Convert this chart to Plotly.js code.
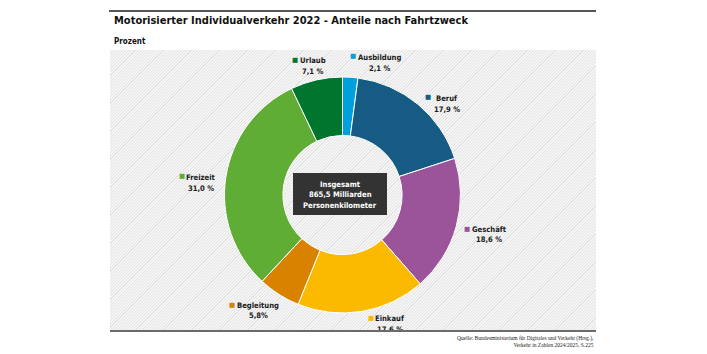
<!DOCTYPE html>
<html>
<head>
<meta charset="utf-8">
<script src="https://cdn.plot.ly/plotly-3.0.1.min.js"></script>
<style>
  html, body { margin: 0; padding: 0; background: #ffffff; }
  #wrap { position: relative; width: 707px; height: 354px; overflow: hidden; }
  #hatch { position: absolute; left: 110px; top: 50px; width: 486px; height: 280px;
    background: repeating-linear-gradient(135deg, #e3e3e3 0px, #e3e3e3 0.8px, #f5f5f5 0.8px, #f5f5f5 2.2px); }
  #plot { position: absolute; left: 0; top: 0; width: 707px; height: 354px; }
  #bottomline { position: absolute; left: 110px; top: 330px; width: 486px; height: 4px;
    border-top: 2px solid #6b6b6b; background: #ffffff; box-sizing: border-box; }
</style>
</head>
<body>
<div id="wrap">
  <div id="hatch"></div>
  <div id="plot"></div>
  <div id="bottomline"></div>
</div>
<script>
// ---- Data ----
const categories = ["Ausbildung", "Beruf", "Geschäft", "Einkauf", "Begleitung", "Freizeit", "Urlaub"];
const shares = [2.1, 17.9, 18.6, 17.6, 5.8, 31.0, 7.1];
const shareLabels = ["2,1 %", "17,9 %", "18,6 %", "17,6 %", "5,8%", "31,0 %", "7,1 %"];
const colors = ["#00a0dc", "#155b84", "#9b5399", "#fbb900", "#d98200", "#5fad35", "#00752e"];
const centerText = ["Insgesamt", "865,5 Milliarden", "Personenkilometer"];
const titleText = "Motorisierter Individualverkehr 2022 - Anteile nach Fahrtzweck";
const unitText = "Prozent";
const sourceText = ["Quelle: Bundesministerium für Digitales und Verkehr (Hrsg.),", "Verkehr in Zahlen 2024/2025, S.225"];

// ---- Layout helpers (pixel positions of labels) ----
const W = 707, H = 354;
const px = x => x / W;
const py = y => 1 - y / H;
// label block centre x, first-line y, marker x, marker y
const labelPos = [
  [379, 58, 353, 56.5],
  [447, 98.5, 428, 97.5],
  [489, 229, 467, 228.5],
  [390, 318.5, 371, 317.5],
  [258, 305, 232, 304.5],
  [200.5, 177.5, 182, 176.5],
  [312.5, 60.5, 295, 59.5]
];
const lineGap = 10.5;

const FONT = '"DejaVu Sans Condensed", "DejaVu Sans", sans-serif';

const cx = 342.5, cy = 195, r = 118;

const trace = {
  type: "pie",
  labels: categories,
  values: shares,
  sort: false,
  direction: "clockwise",
  rotation: 0,
  hole: 0.505,
  textinfo: "none",
  hoverinfo: "label+percent",
  marker: { colors: colors, line: { color: "#ffffff", width: 1 } },
  domain: { x: [px(cx - r), px(cx + r)], y: [py(cy + r), py(cy - r)] },
  showlegend: false
};

const annotations = [];
categories.forEach((c, i) => {
  const p = labelPos[i];
  annotations.push({
    xref: "paper", yref: "paper", x: px(p[2]), y: py(p[3]),
    text: "■", showarrow: false, xanchor: "center", yanchor: "middle",
    font: { family: "DejaVu Sans", size: 6.5, color: colors[i] }
  });
  annotations.push({
    xref: "paper", yref: "paper", x: px(p[0]), y: py(p[1]),
    text: "<b>" + c + "</b>",
    showarrow: false, xanchor: "center", yanchor: "middle",
    font: { family: FONT, size: 7.6, color: "#1a1a1a" }
  });
  annotations.push({
    xref: "paper", yref: "paper", x: px(p[0]), y: py(p[1] + lineGap),
    text: "<b>" + shareLabels[i] + "</b>",
    showarrow: false, xanchor: "center", yanchor: "middle",
    font: { family: FONT, size: 7.6, color: "#1a1a1a" }
  });
});

annotations.push({
  xref: "paper", yref: "paper", x: px(112), y: py(21),
  text: "<b>" + titleText + "</b>", showarrow: false, xanchor: "left", yanchor: "middle",
  font: { family: FONT, size: 11, color: "#111111" }
});
annotations.push({
  xref: "paper", yref: "paper", x: px(112), y: py(41.5),
  text: "<b>" + unitText + "</b>", showarrow: false, xanchor: "left", yanchor: "middle",
  font: { family: FONT, size: 8, color: "#111111" }
});
centerText.forEach((t, i) => {
  annotations.push({
    xref: "paper", yref: "paper", x: px(340), y: py(184 + i * 10.5),
    text: "<b>" + t + "</b>", showarrow: false,
    xanchor: "center", yanchor: "middle",
    font: { family: FONT, size: 7.6, color: "#ffffff" }
  });
});
annotations.push({
  xref: "paper", yref: "paper", x: px(596), y: py(333),
  text: sourceText.join("<br>"), showarrow: false, xanchor: "right", yanchor: "top", align: "right",
  font: { family: "Liberation Serif, serif", size: 5.5, color: "#222222" }
});

const layout = {
  width: W, height: H,
  margin: { l: 0, r: 0, t: 0, b: 0 },
  paper_bgcolor: "rgba(0,0,0,0)",
  plot_bgcolor: "rgba(0,0,0,0)",
  annotations: annotations,
  shapes: [
    { type: "line", xref: "paper", yref: "paper", x0: px(109), x1: px(596), y0: py(11), y1: py(11),
      line: { color: "#555555", width: 2 } },
    { type: "rect", xref: "paper", yref: "paper", layer: "above",
      x0: px(293), x1: px(387), y0: py(215), y1: py(173),
      fillcolor: "#333333", line: { width: 0 } }
  ]
};

Plotly.newPlot("plot", [trace], layout, { displayModeBar: false, staticPlot: true });
</script>
</body>
</html>
